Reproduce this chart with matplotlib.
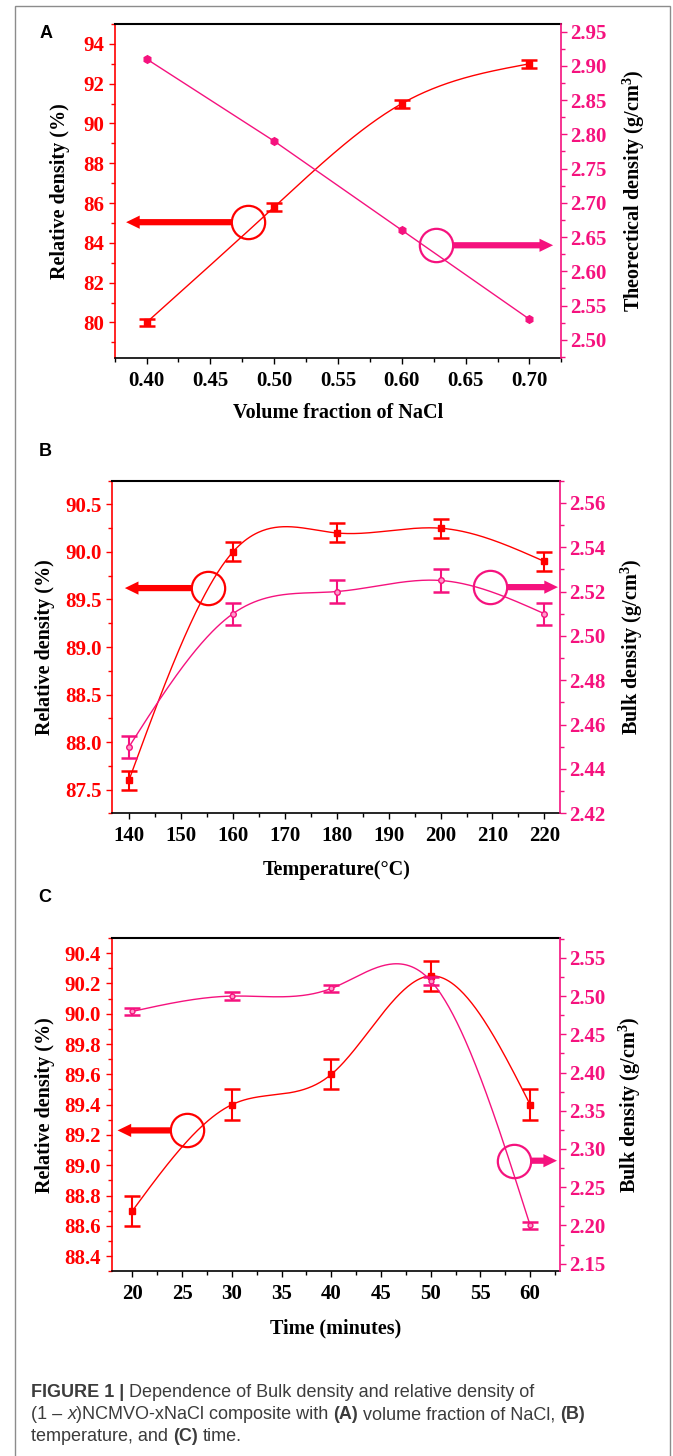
import numpy as np
import matplotlib
matplotlib.use('Agg')
import matplotlib.pyplot as plt
from matplotlib.ticker import MultipleLocator, FormatStrFormatter
from matplotlib.patches import Rectangle

# ---------------- data ----------------
vol_frac = [0.40, 0.50, 0.60, 0.70]
vol_rel = [80.0, 85.8, 91.0, 93.0]
vol_rel_err = [0.2, 0.2, 0.2, 0.2]
vol_theo = [2.91, 2.79, 2.66, 2.53]

temp = [140, 160, 180, 200, 220]
temp_rel = [87.6, 90.0, 90.2, 90.25, 89.9]
temp_rel_err = [0.1, 0.1, 0.1, 0.1, 0.1]
temp_bulk = [2.45, 2.51, 2.52, 2.525, 2.51]
temp_bulk_err = [0.005, 0.005, 0.005, 0.005, 0.005]

time_min = [20, 30, 40, 50, 60]
time_rel = [88.7, 89.4, 89.6, 90.25, 89.4]
time_rel_err = [0.1, 0.1, 0.1, 0.1, 0.1]
time_bulk = [2.48, 2.50, 2.51, 2.52, 2.20]
time_bulk_err = [0.005, 0.005, 0.005, 0.005, 0.005]

RED = '#FF0000'
PINK = '#F5127E'
W, H = 673, 1456
TICK_FS = 15
LAB_FS = 14.5

plt.rcParams['font.family'] = ['Liberation Serif', 'DejaVu Serif']
plt.rcParams['font.weight'] = 'bold'
plt.rcParams['mathtext.fontset'] = 'custom'
plt.rcParams['mathtext.rm'] = 'Liberation Serif:bold'
plt.rcParams['mathtext.bf'] = 'Liberation Serif:bold'
plt.rcParams['mathtext.it'] = 'Liberation Serif:bold'


def natural_spline(x, y, num=300):
    x = np.asarray(x, float)
    y = np.asarray(y, float)
    n = len(x)
    h = np.diff(x)
    A = np.zeros((n, n))
    b = np.zeros(n)
    A[0, 0] = 1
    A[-1, -1] = 1
    for i in range(1, n - 1):
        A[i, i - 1] = h[i - 1]
        A[i, i] = 2 * (h[i - 1] + h[i])
        A[i, i + 1] = h[i]
        b[i] = 6 * ((y[i + 1] - y[i]) / h[i] - (y[i] - y[i - 1]) / h[i - 1])
    M = np.linalg.solve(A, b)
    xs = np.linspace(x[0], x[-1], num)
    ys = np.empty_like(xs)
    for k, xv in enumerate(xs):
        i = min(np.searchsorted(x, xv, side='right') - 1, n - 2)
        i = max(i, 0)
        t1 = x[i + 1] - xv
        t0 = xv - x[i]
        ys[k] = (M[i] * t1 ** 3 / (6 * h[i]) + M[i + 1] * t0 ** 3 / (6 * h[i])
                 + (y[i] / h[i] - M[i] * h[i] / 6) * t1
                 + (y[i + 1] / h[i] - M[i + 1] * h[i] / 6) * t0)
    return xs, ys


fig = plt.figure(figsize=(W / 100, H / 100), dpi=100)


def make_axes(left, right, top, bottom):
    return fig.add_axes([left / W, 1 - bottom / H, (right - left) / W, (bottom - top) / H])


def style(ax, ax2, xlim, xmaj, xmin, xfmt, ylim, ymaj, ymin, yfmt, y2lim, y2maj, y2min, y2fmt):
    ax.set_xlim(*xlim)
    ax.set_ylim(*ylim)
    ax2.set_ylim(*y2lim)
    ax.xaxis.set_major_locator(MultipleLocator(xmaj))
    ax.xaxis.set_minor_locator(MultipleLocator(xmin))
    ax.xaxis.set_major_formatter(FormatStrFormatter(xfmt))
    ax.yaxis.set_major_locator(MultipleLocator(ymaj))
    ax.yaxis.set_minor_locator(MultipleLocator(ymin))
    ax.yaxis.set_major_formatter(FormatStrFormatter(yfmt))
    ax2.yaxis.set_major_locator(MultipleLocator(y2maj))
    ax2.yaxis.set_minor_locator(MultipleLocator(y2min))
    ax2.yaxis.set_major_formatter(FormatStrFormatter(y2fmt))
    for sp in ('left', 'right', 'top', 'bottom'):
        ax2.spines[sp].set_visible(sp == 'right')
    ax.spines['right'].set_visible(False)
    ax.spines['left'].set_color(RED)
    ax2.spines['right'].set_color(PINK)
    for s in (ax.spines['left'], ax2.spines['right'], ax.spines['bottom']):
        s.set_linewidth(1.2)
    ax.spines['top'].set_linewidth(1.5)
    ax.tick_params(axis='x', which='major', direction='out', length=4.5, width=1.0,
                   labelsize=TICK_FS, pad=5, top=False, colors='black')
    ax.tick_params(axis='x', which='minor', direction='out', length=3, width=1.0, top=False)
    ax.tick_params(axis='y', which='major', direction='out', length=4.5, width=1.0,
                   labelsize=TICK_FS, pad=3, colors=RED)
    ax.tick_params(axis='y', which='minor', direction='out', length=3, width=1.0, colors=RED)
    ax2.tick_params(axis='y', which='major', direction='out', length=4.5, width=1.0,
                    labelsize=TICK_FS, pad=2, colors=PINK)
    ax2.tick_params(axis='y', which='minor', direction='out', length=3, width=1.0, colors=PINK)
    for lab in ax.get_xticklabels() + ax.get_yticklabels() + ax2.get_yticklabels():
        lab.set_fontweight('bold')


def labels(ax, xlabel, ylabel, y2label, lx, rx, by):
    ax.text(lx, 0.5, ylabel, transform=ax.transAxes, rotation=90, ha='center', va='center',
            fontsize=LAB_FS, fontweight='bold')
    ax.text(rx, 0.5, y2label, transform=ax.transAxes, rotation=90, ha='center', va='center',
            fontsize=LAB_FS, fontweight='bold')
    ax.text(0.5, by, xlabel, transform=ax.transAxes, ha='center', va='center',
            fontsize=LAB_FS, fontweight='bold')


def circ_arrow(ax, cx, cy, tipx, color):
    ax.plot([cx], [cy], marker='o', ms=24, mfc='none', mec=color, mew=1.6, zorder=6,
            clip_on=False)
    ax.annotate('', xy=(tipx, cy), xytext=(cx, cy), annotation_clip=False,
                arrowprops=dict(arrowstyle='simple,head_length=0.7,head_width=0.68,tail_width=0.32',
                                color=color, lw=0, shrinkA=12, shrinkB=0, mutation_scale=14),
                zorder=6)


def err(ax, x, y, e, color, marker, ms, mfc, cap=10):
    ax.errorbar(x, y, yerr=e, fmt=marker, ms=ms, color=color, mfc=mfc, mec=color,
                ecolor=color, elinewidth=1.5, capsize=cap / 2, capthick=1.8, zorder=4)


# ---------------- panel A ----------------
axA = make_axes(114.6, 561.4, 24, 358.3)
axA2 = axA.twinx()
xs, ys = natural_spline(vol_frac, vol_rel)
axA.plot(xs, ys, color=RED, lw=1.0, zorder=3)
err(axA, vol_frac, vol_rel, vol_rel_err, RED, 's', 4, RED, cap=11)
axA2.plot(vol_frac, vol_theo, color=PINK, lw=1.0, marker='h', ms=5.5, mfc=PINK, mec=PINK)
style(axA, axA2, (0.375, 0.725), 0.05, 0.025, '%.2f', (78.2, 95.0), 2, 1, '%d',
      (2.473, 2.961), 0.05, 0.025, '%.2f')
labels(axA, 'Volume fraction of NaCl', 'Relative density (%)',
       'Theorectical density (g/cm$^{3}$)', -0.122, 1.163, -0.164)
circ_arrow(axA, 0.4795, 85.04, 0.384, RED)
circ_arrow(axA, 0.6266, 83.88, 0.7185, PINK)

# ---------------- panel B ----------------
axB = make_axes(112.4, 560, 480.7, 813.3)
axB2 = axB.twinx()
xs, ys = natural_spline(temp, temp_rel)
axB.plot(xs, ys, color=RED, lw=1.0, zorder=3)
err(axB, temp, temp_rel, temp_rel_err, RED, 's', 4, RED, cap=11)
xs, ys = natural_spline(temp, temp_bulk)
axB2.plot(xs, ys, color=PINK, lw=1.0, zorder=3)
err(axB2, temp, temp_bulk, temp_bulk_err, PINK, 'o', 4, '#FF9CCB', cap=11)
style(axB, axB2, (136.8, 223), 10, 5, '%d', (87.25, 90.75), 0.5, 0.25, '%.1f',
      (2.42, 2.57), 0.02, 0.01, '%.2f')
labels(axB, 'Temperature(°C)', 'Relative density (%)', 'Bulk density (g/cm$^{3}$)',
       (45 - 112.4) / 447.6, (632 - 112.4) / 447.6, (813.3 - 870) / 332.6)
circ_arrow(axB, 155.2, 89.62, 139.2, RED)
circ_arrow(axB, 209.6, 89.63, 222.6, PINK)

# ---------------- panel C ----------------
axC = make_axes(111.6, 560, 938, 1271.3)
axC2 = axC.twinx()
xs, ys = natural_spline(time_min, time_rel)
axC.plot(xs, ys, color=RED, lw=1.0, zorder=3)
err(axC, time_min, time_rel, time_rel_err, RED, 's', 4, RED, cap=11)
xs, ys = natural_spline(time_min, time_bulk)
axC2.plot(xs, ys, color=PINK, lw=1.0, zorder=3)
err(axC2, time_min, time_bulk, time_bulk_err, PINK, 'o', 3.5, '#FF9CCB', cap=11)
style(axC, axC2, (17.9, 63.0), 5, 2.5, '%d', (88.3, 90.5), 0.2, 0.1, '%.1f',
      (2.14, 2.576), 0.05, 0.025, '%.2f')
labels(axC, 'Time (minutes)', 'Relative density (%)', 'Bulk density (g/cm$^{3}$)',
       (45 - 111.6) / 448.4, (630 - 111.6) / 448.4, (1271.3 - 1328) / 333.3)
circ_arrow(axC, 25.47, 89.23, 18.5, RED)
circ_arrow(axC, 58.37, 89.03, 62.7, PINK)

# panel letters
for lab, (px, py) in zip(['A', 'B', 'C'], [(46, 34), (45, 451), (45, 897)]):
    fig.text(px / W, 1 - py / H, lab, ha='center', va='center', fontsize=13,
             fontweight='bold', family=['Liberation Sans', 'DejaVu Sans'])

# frame
fig.patches.append(Rectangle((15 / W, -0.02), (670 - 15) / W, 1.02 - 6 / H, transform=fig.transFigure,
                             fill=False, edgecolor='#8c8c8c', lw=1.0))

# caption with mixed styles
renderer = fig.canvas.get_renderer()
CAP = dict(fontsize=13.0, family=['Liberation Sans', 'DejaVu Sans'], color='#3c3c3c')


def text_w(s, **kw):
    t = fig.text(0, 0, s, **kw)
    w = t.get_window_extent(renderer=renderer).width
    t.remove()
    return w


def draw_runs(x0, y, parts):
    x = x0
    for s, extra in parts:
        kw = dict(CAP)
        kw.update(extra)
        lead = len(s) - len(s.lstrip(' '))
        trail = len(s) - len(s.rstrip(' '))
        sp = text_w('a a', **kw) - text_w('aa', **kw)
        core = s.strip(' ')
        x += lead * sp
        t = fig.text(x / W, 1 - y / H, core, ha='left', va='baseline', **kw)
        x += t.get_window_extent(renderer=renderer).width + trail * sp


B_ = dict(fontweight='bold')
N_ = dict(fontweight='normal')
I_ = dict(fontweight='normal', style='italic')
draw_runs(31, 1397, [('FIGURE 1 | ', B_), ('Dependence of Bulk density and relative density of', N_)])
draw_runs(31, 1419, [('(1 – ', N_), ('x', I_), (')NCMVO-xNaCl composite with ', N_), ('(A)', B_),
                     (' volume fraction of NaCl, ', N_), ('(B)', B_)])
draw_runs(31, 1441, [('temperature, and ', N_), ('(C)', B_), (' time.', N_)])

fig.savefig('out.png', dpi=100)
